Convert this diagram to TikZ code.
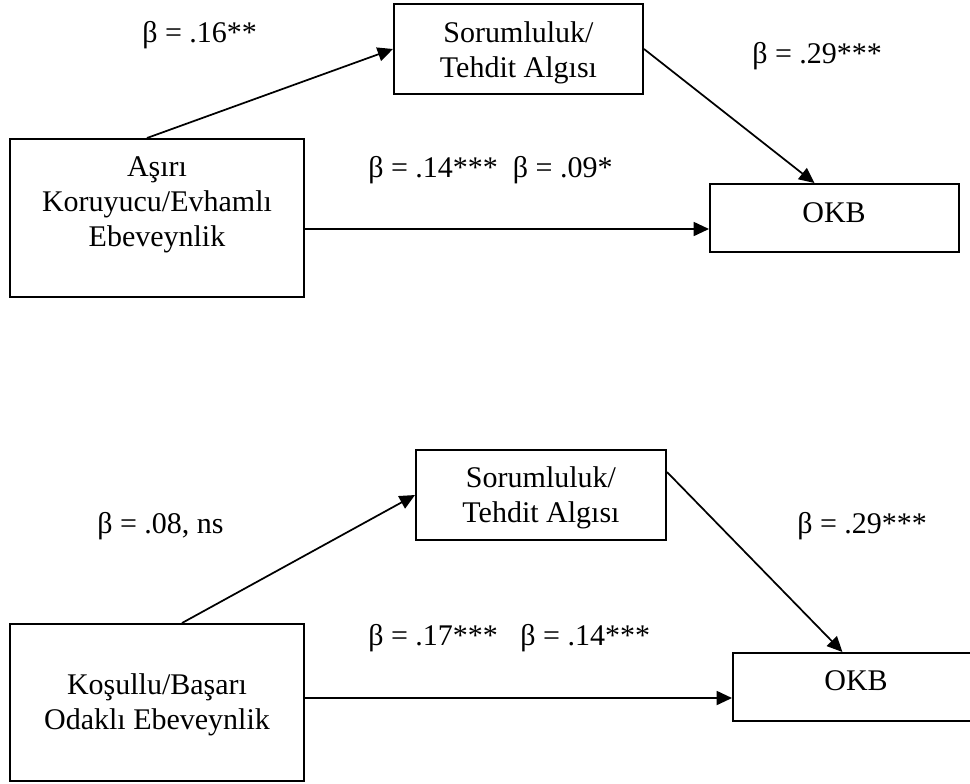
\documentclass[tikz,border=0pt]{standalone}
\usepackage{fontspec}
\setmainfont{Liberation Serif}
\usetikzlibrary{arrows.meta,calc}
\tikzset{
  box/.style={draw,line width=1.5pt,rectangle,inner sep=0pt},
  txt/.style={align=center,inner sep=0pt,font=\fontsize{22.5pt}{26.25pt}\selectfont},
  lab/.style={anchor=base west,inner sep=0pt,font=\fontsize{22.5pt}{26.25pt}\selectfont},
  arr/.style={line width=1.3pt,-{Triangle[length=11.5pt,width=10.5pt]}}
}
\begin{document}
\begin{tikzpicture}[x=0.75pt,y=-0.75pt]
\useasboundingbox (0,0) rectangle (970,783);
\clip (0,0) rectangle (970,783);
% top diagram
\node[box,minimum width=249*0.75pt,minimum height=90*0.75pt] (S1) at (518.5,49) {};
\node[box,minimum width=294*0.75pt,minimum height=158*0.75pt] (A1) at (157,218) {};
\node[box,minimum width=249*0.75pt,minimum height=68*0.75pt] (O1) at (834.5,218) {};
\node[txt] (S1t) at (518.5,52.5) {Sorumluluk/\\Tehdit Algısı};
\node[txt] (A1t) at (157,205) {Aşırı\\Koruyucu/Evhamlı\\Ebeveynlik};
\node[txt] (O1t) at (834,213) {OKB};
\node[lab] (L1) at (142,42) {β = .16**};
\node[lab] (L2) at (752,63) {β = .29***};
\node[lab] (L3) at (368,177) {β = .14***~~β = .09*};
\draw[arr] ($(A1.north)+(-10,0)$) -- (S1.west);
\draw[arr] (S1.east) -- ($(O1.north west)!0.42!(O1.north east)$);
\draw[arr] ($(A1.east)+(0,11)$) -- ($(O1.west)+(0,11)$);
% bottom diagram
\node[box,minimum width=250*0.75pt,minimum height=90*0.75pt] (S2) at (541,495) {};
\node[box,minimum width=294*0.75pt,minimum height=157*0.75pt] (A2) at (157,702.5) {};
\node[box,minimum width=249*0.75pt,minimum height=68*0.75pt] (O2) at (857.5,687) {};
\node[txt] (S2t) at (541,498) {Sorumluluk/\\Tehdit Algısı};
\node[txt] (A2t) at (157,705) {Koşullu/Başarı\\Odaklı Ebeveynlik};
\node[txt] (O2t) at (856,681) {OKB};
\node[lab] (L4) at (97,533) {β = .08, ns};
\node[lab] (L5) at (797,533) {β = .29***};
\node[lab] (L6) at (368,645) {β = .17***~~~β = .14***};
\draw[arr] ($(A2.north)+(25,0)$) -- (S2.west);
\draw[arr] ($(S2.north east)!0.25!(S2.south east)$) -- ($(O2.north west)!0.44!(O2.north east)$);
\coordinate (h2) at ($(O2.west)+(0,11)$);
\draw[arr] (A2.east |- h2) -- (h2);
\end{tikzpicture}
\end{document}
